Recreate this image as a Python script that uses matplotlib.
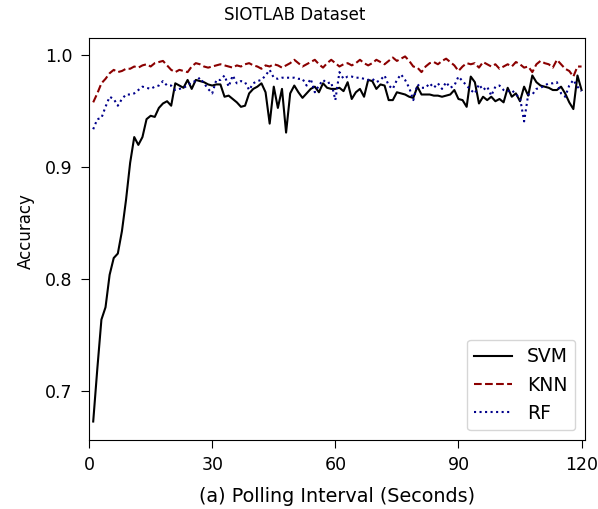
import matplotlib
matplotlib.use("Agg")
import matplotlib.pyplot as plt

# intervalo de polling (segundos)
intervals = list(range(1, 121))

svm_acc = [0.673, 0.720, 0.764, 0.775, 0.804, 0.819, 0.823, 0.843, 0.871, 0.904,
           0.927, 0.920, 0.927, 0.943, 0.946, 0.945, 0.953, 0.957, 0.959, 0.955,
           0.975, 0.973, 0.971, 0.978, 0.970, 0.978, 0.977, 0.976, 0.974, 0.973,
           0.974, 0.974, 0.963, 0.964, 0.961, 0.958, 0.954, 0.955, 0.966, 0.970,
           0.972, 0.975, 0.967, 0.939, 0.972, 0.953, 0.970, 0.931, 0.966, 0.973,
           0.967, 0.962, 0.966, 0.970, 0.972, 0.967, 0.975, 0.971, 0.970, 0.970,
           0.971, 0.968, 0.976, 0.961, 0.967, 0.970, 0.963, 0.978, 0.977, 0.970,
           0.974, 0.973, 0.960, 0.960, 0.967, 0.966, 0.965, 0.963, 0.962, 0.972,
           0.965, 0.965, 0.965, 0.964, 0.964, 0.963, 0.964, 0.965, 0.969, 0.961,
           0.960, 0.954, 0.981, 0.976, 0.957, 0.963, 0.960, 0.963, 0.959, 0.961,
           0.958, 0.971, 0.963, 0.966, 0.959, 0.972, 0.964, 0.982, 0.976, 0.973,
           0.972, 0.971, 0.969, 0.969, 0.972, 0.966, 0.958, 0.952, 0.982, 0.969]

knn_acc = [0.958, 0.966, 0.975, 0.979, 0.984, 0.987, 0.985, 0.986, 0.988, 0.988,
           0.990, 0.989, 0.991, 0.992, 0.990, 0.993, 0.994, 0.995, 0.991, 0.987,
           0.985, 0.987, 0.986, 0.985, 0.990, 0.993, 0.992, 0.990, 0.989, 0.990,
           0.991, 0.992, 0.991, 0.990, 0.989, 0.991, 0.990, 0.992, 0.993, 0.991,
           0.990, 0.988, 0.991, 0.990, 0.992, 0.991, 0.989, 0.991, 0.993, 0.996,
           0.993, 0.990, 0.992, 0.994, 0.996, 0.992, 0.989, 0.993, 0.996, 0.993,
           0.990, 0.992, 0.993, 0.991, 0.993, 0.996, 0.993, 0.991, 0.993, 0.996,
           0.994, 0.992, 0.995, 0.998, 0.995, 0.997, 0.999, 0.995, 0.990, 0.989,
           0.985, 0.990, 0.993, 0.994, 0.992, 0.995, 0.997, 0.994, 0.991, 0.986,
           0.990, 0.993, 0.992, 0.993, 0.989, 0.994, 0.992, 0.990, 0.992, 0.988,
           0.990, 0.992, 0.990, 0.994, 0.992, 0.989, 0.990, 0.985, 0.992, 0.995,
           0.993, 0.992, 0.989, 0.996, 0.992, 0.988, 0.986, 0.981, 0.990, 0.990]

rf_acc = [0.934, 0.943, 0.944, 0.954, 0.963, 0.961, 0.955, 0.961, 0.965, 0.965,
          0.966, 0.969, 0.972, 0.971, 0.970, 0.972, 0.973, 0.977, 0.973, 0.973,
          0.969, 0.970, 0.971, 0.973, 0.976, 0.977, 0.980, 0.975, 0.970, 0.966,
          0.978, 0.978, 0.982, 0.972, 0.982, 0.975, 0.977, 0.976, 0.969, 0.975,
          0.977, 0.978, 0.982, 0.987, 0.980, 0.979, 0.980, 0.980, 0.980, 0.980,
          0.979, 0.979, 0.973, 0.979, 0.967, 0.973, 0.978, 0.975, 0.976, 0.960,
          0.985, 0.979, 0.981, 0.981, 0.980, 0.980, 0.979, 0.978, 0.979, 0.976,
          0.978, 0.982, 0.973, 0.970, 0.978, 0.983, 0.978, 0.971, 0.960, 0.974,
          0.971, 0.971, 0.975, 0.971, 0.975, 0.970, 0.976, 0.971, 0.973, 0.981,
          0.977, 0.973, 0.969, 0.966, 0.974, 0.969, 0.972, 0.964, 0.972, 0.973,
          0.969, 0.968, 0.969, 0.965, 0.962, 0.941, 0.965, 0.965, 0.970, 0.971,
          0.973, 0.975, 0.975, 0.976, 0.966, 0.963, 0.973, 0.978, 0.972, 0.968]

xticks = [0, 30, 60, 90, 120]
yticks = [0.7, 0.8, 0.9, 1.0]

fig = plt.figure(figsize=(5.98, 5.09), dpi=100)
ax = fig.add_axes([0.149, 0.136, 0.829, 0.789])

ax.plot(intervals, svm_acc, color='black', linestyle='-', linewidth=1.5, label='SVM')
ax.plot(intervals, knn_acc, color='#8b0000', linestyle='--', linewidth=1.5, label='KNN')
ax.plot(intervals, rf_acc, color='#00008b', linestyle=':', linewidth=1.5, label='RF')

# título no topo da figura
fig.text(0.492, 1 - 15 / 509, 'SIOTLAB Dataset', ha='center', va='center', fontsize=12)

ax.set_xlabel('(a) Polling Interval (Seconds)', fontsize=13.8)
ax.set_ylabel('Accuracy', fontsize=12)
ax.xaxis.set_label_coords(0.5, -0.117)
ax.yaxis.set_label_coords(-0.11, 0.52)

ax.set_xlim(0, 120.8)
ax.set_xticks(xticks)
ax.set_yticks(yticks)
ax.tick_params(axis='both', length=6, pad=6, labelsize=12.5)

ax.legend(loc='lower right', fontsize=13.5, handlelength=2.0)

fig.savefig('out.png', dpi=100)
